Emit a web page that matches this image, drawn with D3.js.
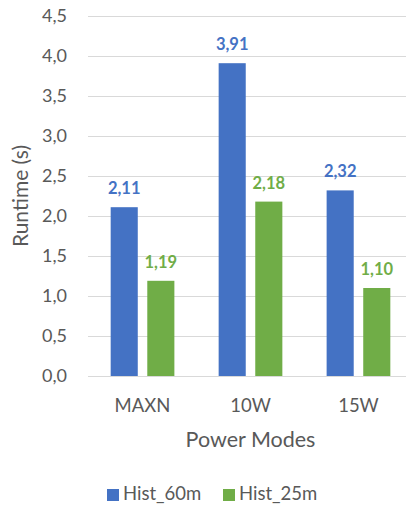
<!DOCTYPE html>
<html>
<head>
<meta charset="utf-8">
<script src="https://cdn.jsdelivr.net/npm/d3@7"></script>
<style>
  html, body { margin: 0; padding: 0; background: #fff; }
  svg { display: block; font-family: Lato, "Open Sans", sans-serif; }
</style>
</head>
<body>
<svg id="chart" width="406" height="508"></svg>
<script>
// Runtime per power mode for two history windows
const categories = ["MAXN", "10W", "15W"];
const seriesNames = ["Hist_60m", "Hist_25m"];
const hist60 = [2.11, 3.91, 2.32];
const hist25 = [1.19, 2.18, 1.10];
const yTicks = [0, 0.5, 1, 1.5, 2, 2.5, 3, 3.5, 4, 4.5];
const colors = ["#4472C4", "#70AD47"];

const values = [hist60, hist25];
const fmt = d3.format(".2f");
const fmtTick = d3.format(".1f");
const comma = s => s.replace(".", ",");

const svg = d3.select("#chart");

const plot = { left: 88, right: 413, top: 16, bottom: 376 };

const y = d3.scaleLinear().domain([0, 4.5]).range([plot.bottom, plot.top]);
const x0 = d3.scaleBand().domain(categories).range([plot.left, plot.right])
  .paddingInner(0.41).paddingOuter(0.21);
const x1 = d3.scaleBand().domain(seriesNames).range([0, x0.bandwidth()]).paddingInner(0.26);

// Horizontal gridlines
svg.append("g").selectAll("line").data(yTicks).join("line")
  .attr("x1", plot.left).attr("x2", plot.right)
  .attr("y1", d => Math.round(y(d)) + 0.5).attr("y2", d => Math.round(y(d)) + 0.5)
  .attr("stroke", "#d9d9d9").attr("stroke-width", 1);

// Y axis tick labels
svg.append("g").selectAll("text").data(yTicks).join("text")
  .attr("x", 67).attr("y", d => y(d)).attr("dy", "0.35em")
  .attr("text-anchor", "end").attr("fill", "#595959").attr("font-size", 18)
  .text(d => comma(fmtTick(d)));

// Bars
const groups = svg.append("g").selectAll("g").data(categories).join("g")
  .attr("transform", c => `translate(${x0(c)},0)`);

groups.selectAll("rect")
  .data((c, i) => seriesNames.map((s, j) => ({ s, j, v: values[j][i] })))
  .join("rect")
  .attr("x", d => x1(d.s)).attr("width", x1.bandwidth())
  .attr("y", d => y(d.v)).attr("height", d => y(0) - y(d.v))
  .attr("fill", d => colors[d.j]);

// Value labels
groups.selectAll("text")
  .data((c, i) => seriesNames.map((s, j) => ({ s, j, v: values[j][i] })))
  .join("text")
  .attr("x", d => x1(d.s) + x1.bandwidth() / 2)
  .attr("y", d => y(d.v) - 13)
  .attr("text-anchor", "middle").attr("font-weight", "bold").attr("font-size", 16.5)
  .attr("fill", d => colors[d.j])
  .text(d => comma(fmt(d.v)));

// Category axis line
svg.append("line")
  .attr("x1", plot.left).attr("x2", plot.right)
  .attr("y1", Math.round(y(0)) + 0.5).attr("y2", Math.round(y(0)) + 0.5)
  .attr("stroke", "#d9d9d9").attr("stroke-width", 1);

// Category labels
svg.append("g").selectAll("text").data(categories).join("text")
  .attr("x", c => x0(c) + x0.bandwidth() / 2).attr("y", 412)
  .attr("text-anchor", "middle").attr("fill", "#595959").attr("font-size", 18.5)
  .text(c => c);

// Axis titles
svg.append("text")
  .attr("x", (plot.left + plot.right) / 2).attr("y", 447)
  .attr("text-anchor", "middle").attr("fill", "#595959").attr("font-size", 21.5)
  .text("Power Modes");

svg.append("text")
  .attr("transform", `translate(28,${(plot.top + plot.bottom) / 2}) rotate(-90)`)
  .attr("text-anchor", "middle").attr("fill", "#595959").attr("font-size", 21)
  .text("Runtime (s)");

// Legend
const legendX = [107, 223];
const legend = svg.append("g").selectAll("g").data(seriesNames).join("g")
  .attr("transform", (d, i) => `translate(${legendX[i]},489)`);
legend.append("rect").attr("width", 12).attr("height", 12)
  .attr("fill", (d, i) => colors[i]);
legend.append("text").attr("x", 16).attr("y", 11)
  .attr("fill", "#595959").attr("font-size", 18.5)
  .text(d => d);
</script>
</body>
</html>
